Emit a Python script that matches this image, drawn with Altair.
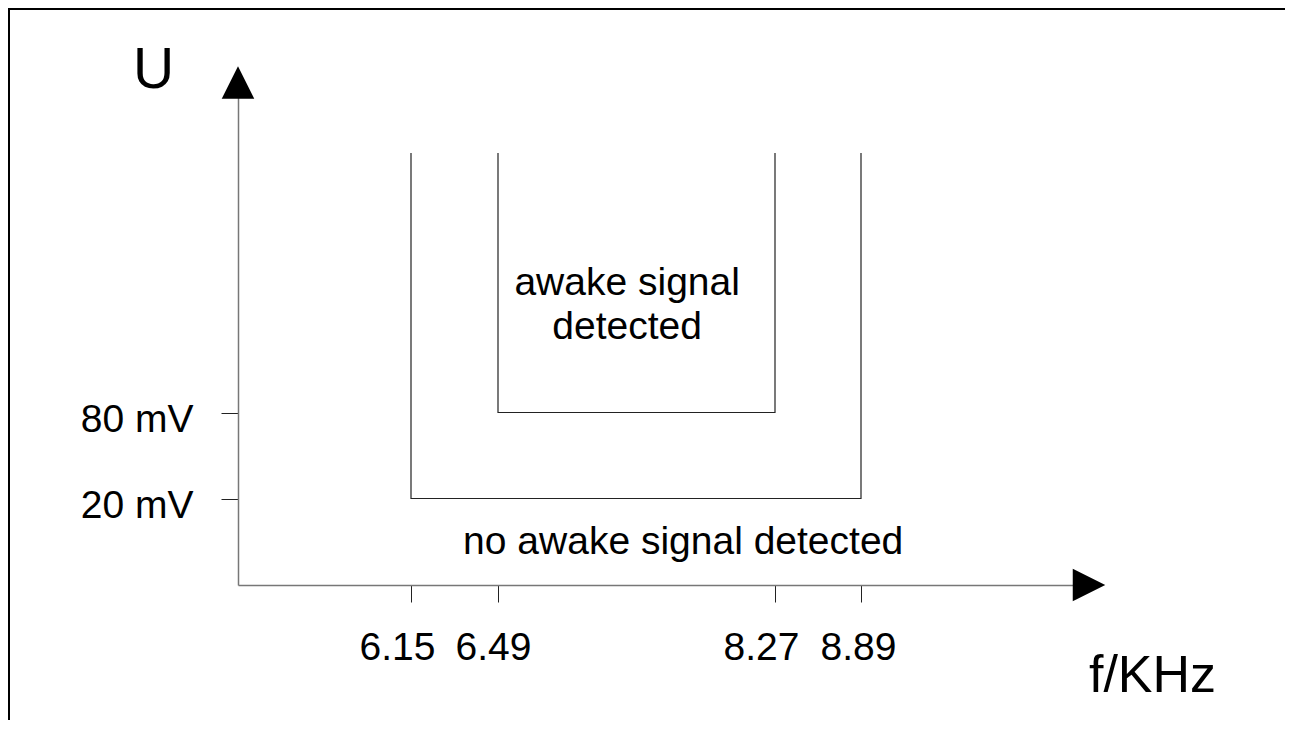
import altair as alt
import pandas as pd

# ---- values ----
freq_ticks = [6.15, 6.49, 8.27, 8.89]          # f / kHz tick values
freq_label_shift = [-14, -5, -14, -3]          # labels sit slightly left of their ticks
volt_ticks = [20, 80]                          # U / mV tick values

outer_f = [6.15, 6.15, 8.89, 8.89]             # wide window (20 mV threshold)
outer_u = [200, 20, 20, 200]
inner_f = [6.49, 6.49, 8.27, 8.27]             # narrow window (80 mV threshold)
inner_u = [200, 80, 80, 200]

region_text = ["awake signal\ndetected", "no awake signal detected"]
region_f = [7.32, 7.68]
region_u = [140, 10]

arrow_f = [0, 11]
arrow_u = [260, 0]
arrow_dir = ["up", "right"]

# ---- tables ----
curves = pd.DataFrame({
    "f": outer_f + inner_f,
    "u": outer_u + inner_u,
    "curve": ["outer"] * 4 + ["inner"] * 4,
    "step": list(range(4)) * 2,
})
labels = pd.DataFrame({"text": region_text, "f": region_f, "u": region_u})
arrows = pd.DataFrame({"f": arrow_f, "u": arrow_u, "dir": arrow_dir})
frame = pd.DataFrame({"side": ["frame"]})

FONT = "Liberation Sans"

x_scale = alt.Scale(domain=[0, 6.15, 6.49, 8.27, 8.89, 11],
                    range=[0, 173, 260, 537, 623, 851], zero=False, nice=False)
y_scale = alt.Scale(domain=[0, 20, 80, 200, 260],
                    range=[577, 490.5, 404.5, 145, 74.5], zero=False, nice=False)

label_offset = {
    "condition": [{"test": f"abs(datum.value - {v}) < 0.001", "value": s}
                  for v, s in zip(freq_ticks, freq_label_shift)],
    "value": 0,
}

x_axis = alt.Axis(values=freq_ticks, title="f/KHz", grid=False,
                  labelExpr="format(datum.value, '.2f')",
                  labelFont=FONT, labelFontSize=39, labelColor="black",
                  labelPadding=26, labelFlush=False, labelOverlap=False,
                  labelOffset=label_offset,
                  tickSize=17, tickColor="#222", tickWidth=1,
                  domainColor="#777", domainWidth=1.5,
                  titleFont=FONT, titleFontSize=52, titleFontWeight="normal",
                  titleColor="black", titleX=914, titleY=106.7,
                  titleAlign="center", titleBaseline="alphabetic", titleAngle=0)
y_axis = alt.Axis(values=volt_ticks, title="U", grid=False,
                  labelExpr="datum.value + ' mV'",
                  labelFont=FONT, labelFontSize=39, labelColor="black",
                  labelPadding=28, labelFlush=False, labelOverlap=False,
                  labelBaseline="alphabetic", labelOffset=19, labelAlign="right",
                  tickSize=17, tickColor="#222", tickWidth=1,
                  domainColor="#777", domainWidth=1.5,
                  titleFont=FONT, titleFontSize=57, titleFontWeight="normal",
                  titleColor="black", titleX=-85, titleY=79,
                  titleAlign="center", titleBaseline="alphabetic", titleAngle=0)

X = alt.X("f:Q", scale=x_scale, axis=x_axis)
Y = alt.Y("u:Q", scale=y_scale, axis=y_axis)

lines = alt.Chart(curves).mark_line(color="#222", strokeWidth=1.2).encode(
    x=X, y=Y, detail="curve:N", order="step:Q")

texts = alt.Chart(labels).mark_text(
    font=FONT, fontSize=39, color="black", align="center", baseline="middle",
    lineBreak="\n", lineHeight=44).encode(x=X, y=Y, text="text:N")

arrow_up = alt.Chart(arrows[arrows["dir"] == "up"]).mark_point(
    shape="M-1,1L1,1L0,-1Z", filled=True, color="black", opacity=1,
    size=1060, strokeWidth=0).encode(x=X, y=Y)
arrow_right = alt.Chart(arrows[arrows["dir"] == "right"]).mark_point(
    shape="M-1,-1L1,0L-1,1Z", filled=True, color="black", opacity=1,
    size=1060, strokeWidth=0).encode(x=X, y=Y)

frame_left = alt.Chart(frame).mark_rule(color="black", strokeWidth=2).encode(
    x=alt.value(-229), y=alt.value(0), y2=alt.value(712))
frame_top = alt.Chart(frame).mark_rule(color="black", strokeWidth=2).encode(
    x=alt.value(-230), x2=alt.value(1047), y=alt.value(1), y2=alt.value(1))

chart = alt.layer(lines, texts, arrow_up, arrow_right, frame_left, frame_top).properties(
    width=1047, height=577,
    autosize=alt.AutoSizeParams(type="none"),
    padding={"left": 230, "top": 0, "right": 0, "bottom": 135},
    background="white",
).configure_view(stroke=None)

chart.save("out.html", embed_options={"renderer": "svg", "actions": False})
